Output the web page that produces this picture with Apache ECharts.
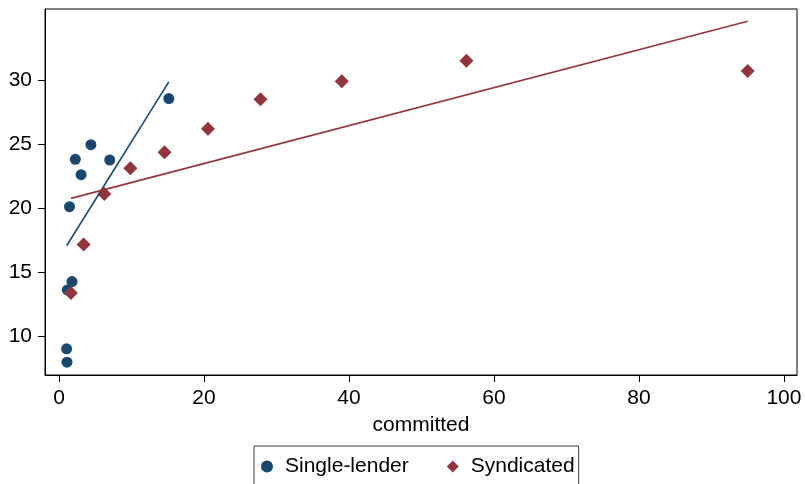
<!DOCTYPE html>
<html>
<head>
<meta charset="utf-8">
<script src="https://cdn.jsdelivr.net/npm/echarts@6/dist/echarts.min.js"></script>
<style>
html,body{margin:0;padding:0;background:#fff;}
#c{width:805px;height:484px;}
</style>
</head>
<body>
<div id="c"></div>
<script>
// Data
var singleX = [1.1, 1.05, 1.15, 1.8, 1.45, 2.25, 3.05, 4.4, 7.0, 15.15];
var singleY = [7.95, 9.0, 13.6, 14.25, 20.1, 23.8, 22.6, 24.95, 23.75, 28.55];
var syndX = [1.65, 3.4, 6.25, 9.85, 14.55, 20.55, 27.8, 39.0, 56.2, 95.0];
var syndY = [13.35, 17.15, 21.1, 23.1, 24.35, 26.2, 28.5, 29.9, 31.5, 30.7];
var singleFitX = [1.05, 15.15];
var singleFitY = [17.05, 29.85];
var syndFitX = [1.65, 95.0];
var syndFitY = [20.75, 34.6];
var xTicks = [0, 20, 40, 60, 80, 100];
var yTicks = [10, 15, 20, 25, 30];
var seriesNames = ['Single-lender', 'Syndicated'];
var xTitle = 'committed';

function zip(a, b) { return a.map(function (v, i) { return [v, b[i]]; }); }

var FONT = "'Liberation Sans', Arial, Helvetica, sans-serif";
var NAVY = '#1a476f';
var MAROON = '#90353b';

var chart = echarts.init(document.getElementById('c'), null, {renderer: 'canvas'});
chart.setOption({
  animation: false,
  backgroundColor: '#fff',
  textStyle: {fontFamily: FONT},
  grid: {
    left: 45, right: 8, top: 9, bottom: 109,
    show: true, borderColor: '#000', borderWidth: 1, backgroundColor: 'transparent'
  },
  xAxis: {
    type: 'value',
    min: -1.93, max: 101.8,
    name: xTitle,
    nameLocation: 'middle',
    nameGap: 40,
    nameTextStyle: {fontFamily: FONT, fontSize: 21, color: '#000'},
    axisLine: {show: true, onZero: false, lineStyle: {color: '#000', width: 1}},
    axisTick: {show: true, length: 7, lineStyle: {color: '#000'}, customValues: xTicks},
    axisLabel: {fontFamily: FONT, fontSize: 21, color: '#000', margin: 13, customValues: xTicks},
    splitLine: {show: false}
  },
  yAxis: {
    type: 'value',
    min: 6.95, max: 35.55,
    axisLine: {show: true, onZero: false, lineStyle: {color: '#000', width: 1}},
    axisTick: {show: true, length: 7, lineStyle: {color: '#000'}, customValues: yTicks},
    axisLabel: {fontFamily: FONT, fontSize: 21, color: '#000', margin: 13, customValues: yTicks},
    splitLine: {show: false}
  },
  legend: {
    data: [
      {name: seriesNames[0], icon: 'circle'},
      {name: seriesNames[1], icon: 'diamond'}
    ],
    left: 254, top: 446,
    orient: 'horizontal',
    padding: [10, 4, 24, 7],
    itemWidth: 12, itemHeight: 12,
    itemGap: 38,
    borderColor: '#333', borderWidth: 1,
    formatter: function (name) { return '{g|}' + name; },
    textStyle: {
      fontFamily: FONT, fontSize: 21, color: '#000',
      rich: {g: {width: 7}}
    }
  },
  series: [
    {
      name: seriesNames[0], type: 'scatter',
      symbol: 'circle', symbolSize: 11,
      itemStyle: {color: NAVY, opacity: 1},
      data: zip(singleX, singleY), z: 2
    },
    {
      name: seriesNames[1], type: 'scatter',
      symbol: 'diamond', symbolSize: 14,
      itemStyle: {color: MAROON, opacity: 1},
      data: zip(syndX, syndY), z: 2
    },
    {
      name: 'fit1', type: 'line', showSymbol: false, symbol: 'none', silent: true,
      lineStyle: {color: NAVY, width: 1.6},
      data: zip(singleFitX, singleFitY), z: 3
    },
    {
      name: 'fit2', type: 'line', showSymbol: false, symbol: 'none', silent: true,
      lineStyle: {color: MAROON, width: 1.6},
      data: zip(syndFitX, syndFitY), z: 3
    }
  ]
});
</script>
</body>
</html>
